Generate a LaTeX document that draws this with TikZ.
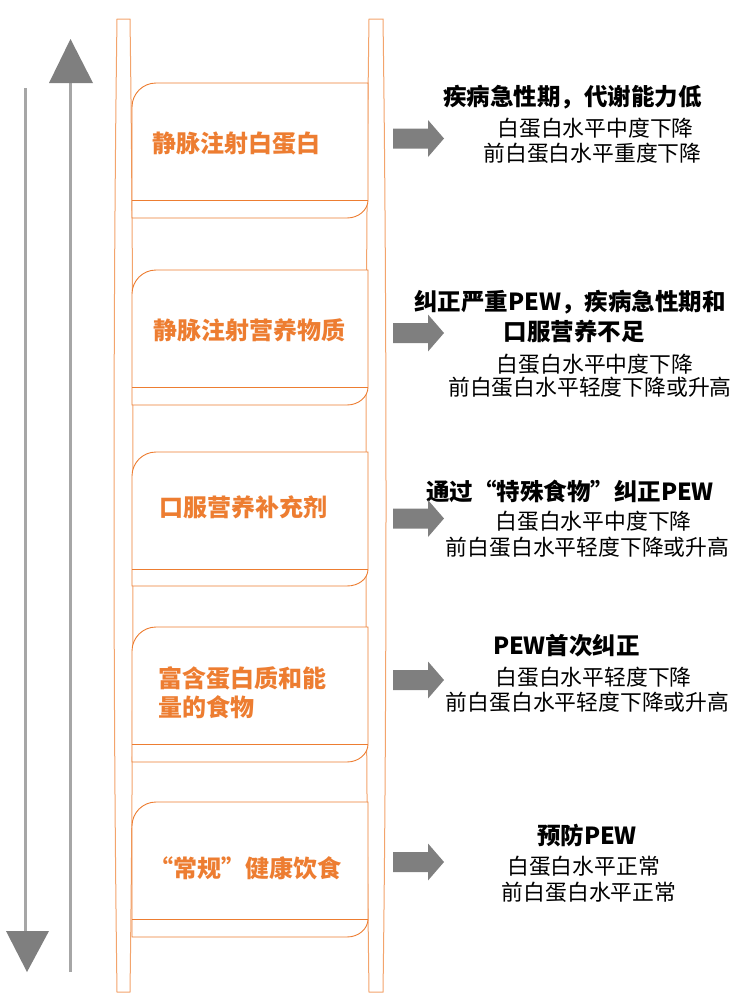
\documentclass[tikz,border=0pt]{standalone}
\usepackage{fontspec}
\newfontfamily\cjk{Noto Sans CJK SC}
\definecolor{orangeC}{HTML}{ED7D31}
\definecolor{railC}{HTML}{F3A46C}
\definecolor{headG}{HTML}{7F7F7F}
\definecolor{shaftG}{HTML}{A6A6A6}
\tikzset{
  stepline/.style={draw=orangeC, line width=0.9pt, fill=white},
  rail/.style={draw=railC, line width=1pt, fill=white},
  orangetxt/.style={font=\cjk\bfseries\fontsize{24}{29}\selectfont, text=orangeC, inner sep=0pt},
  headtxt/.style={font=\cjk\bfseries\fontsize{23.5}{28}\selectfont, text=black, inner sep=0pt},
  subtxt/.style={font=\cjk\fontsize{21.8}{26}\selectfont, text=black, inner sep=0pt},
  blockarrow/.style={fill=headG, draw=none},
  graysh/.style={draw=shaftG, line width=3pt},
}
\begin{document}
\begin{tikzpicture}[x=1pt, y=-1pt]
\useasboundingbox (0,0) rectangle (733,993);
% left trend arrows
\coordinate (upBot) at (70,972);
\coordinate (upTop) at (70,83);
\draw[graysh] (upBot) -- (upTop);
\fill[headG] (49,83) -- (70.5,39) -- (93,83) -- cycle;
\coordinate (dnTop) at (25,88);
\coordinate (dnBot) at (25,931);
\draw[graysh] (dnTop) -- (dnBot);
\fill[headG] (6,931) -- (27,972) -- (49,931) -- cycle;
% rails
\draw[rail] (117,19) -- (130,19) .. controls (134,300) and (134,700) .. (130,992) -- (117,992) .. controls (113,700) and (113,300) .. (117,19) -- cycle;
\draw[rail] (369,19) -- (383,19) .. controls (387,300) and (387,700) .. (383,992) -- (369,992) .. controls (365,700) and (365,300) .. (369,19) -- cycle;
% steps
\foreach \T/\B/\S in {83/200/218, 270/387/405, 452/569/586, 627/744/762, 802/919/937}{
  \draw[stepline] (132,\S) -- (132,\T+24) .. controls (132,\T+10.75) and (142.75,\T) .. (156,\T) -- (368,\T) -- (368,\B) .. controls (368,\B+9.94) and (358.6,\S) .. (347,\S) -- cycle;
  \draw[stepline] (132,\B) -- (368,\B);
}
% step labels
\node[orangetxt] (s1) at (236,143) {静脉注射白蛋白};
\node[orangetxt] (s2) at (249,330) {静脉注射营养物质};
\node[orangetxt] (s3) at (243.5,507) {口服营养补充剂};
\node[orangetxt, anchor=west] (s4a) at (158.5,678) {富含蛋白质和能};
\node[orangetxt, anchor=west] (s4b) at (158.5,707) {量的食物};
\node[orangetxt] (s5) at (245,868) {“常规”健康饮食};
% right descriptions
\node[headtxt] (h1) at (572.5,97.5) {疾病急性期，代谢能力低};
\node[subtxt] (h1a) at (595.5,128) {白蛋白水平中度下降};
\node[subtxt] (h1b) at (592.5,153) {前白蛋白水平重度下降};

\node[headtxt] (h2) at (570,302) {纠正严重PEW，疾病急性期和};
\node[headtxt] (h2x) at (574,332) {口服营养不足};
\node[subtxt] (h2a) at (595,364) {白蛋白水平中度下降};
\node[subtxt] (h2b) at (590,387) {前白蛋白水平轻度下降或升高};

\node[headtxt] (h3) at (570,491) {通过“特殊食物”纠正PEW};
\node[subtxt] (h3a) at (593.5,521) {白蛋白水平中度下降};
\node[subtxt] (h3b) at (587.5,547) {前白蛋白水平轻度下降或升高};

\node[headtxt] (h4) at (566.5,646) {PEW首次纠正};
\node[subtxt] (h4a) at (593.5,677) {白蛋白水平轻度下降};
\node[subtxt] (h4b) at (587.5,702) {前白蛋白水平轻度下降或升高};

\node[headtxt] (h5) at (587,836) {预防PEW};
\node[subtxt] (h5a) at (583.5,866) {白蛋白水平正常};
\node[subtxt] (h5b) at (589,892) {前白蛋白水平正常};
% block arrows
\foreach \c/\n in {138.5/a1, 333/a2, 518.5/a3, 680/a4, 862/a5}{
  \coordinate (\n) at (393,\c);
  \fill[blockarrow] (\n) ++(0,-10) -- ++(35,0) -- ++(0,-8.5) -- ++(16,18.5) -- ++(-16,18.5) -- ++(0,-8.5) -- ++(-35,0) -- cycle;
}
\end{tikzpicture}
\end{document}
